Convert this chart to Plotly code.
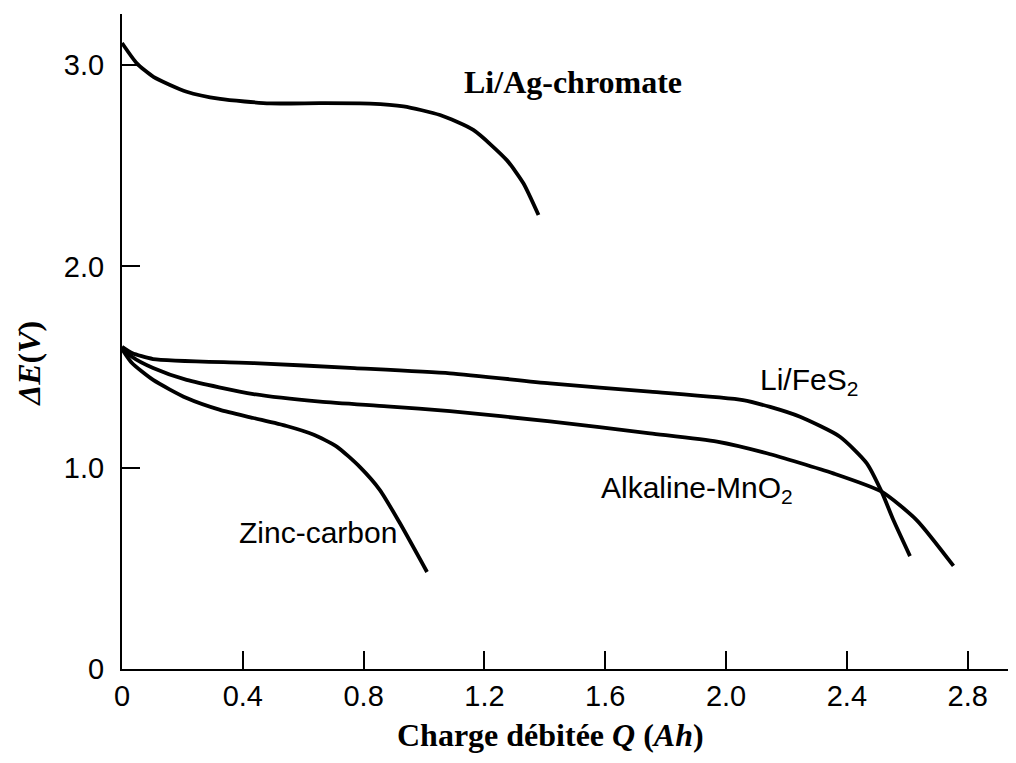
import plotly.graph_objects as go

# Li/Ag-chromate
q_ag = [0, 0.049, 0.104, 0.214, 0.325, 0.49, 0.656, 0.821, 0.932, 1.053, 1.163, 1.274, 1.329, 1.379]
v_ag = [3.11, 3.009, 2.942, 2.868, 2.832, 2.81, 2.811, 2.809, 2.795, 2.752, 2.678, 2.528, 2.413, 2.255]

# Li/FeS2
q_fes = [0, 0.033, 0.103, 0.435, 0.77, 1.086, 1.417, 1.748, 2.056, 2.146, 2.245, 2.377, 2.466, 2.515, 2.554, 2.609]
v_fes = [1.60, 1.57, 1.54, 1.52, 1.495, 1.469, 1.419, 1.378, 1.336, 1.302, 1.253, 1.154, 1.022, 0.881, 0.74, 0.561]

# Alkaline-MnO2
q_alk = [0, 0.033, 0.103, 0.214, 0.435, 0.656, 0.877, 1.086, 1.417, 1.748, 1.97, 2.135, 2.355, 2.515, 2.631, 2.753]
v_alk = [1.60, 1.551, 1.495, 1.436, 1.366, 1.328, 1.305, 1.281, 1.23, 1.171, 1.13, 1.072, 0.972, 0.881, 0.74, 0.512]

# Zinc-carbon
q_zn = [0, 0.033, 0.103, 0.214, 0.325, 0.435, 0.545, 0.633, 0.711, 0.788, 0.854, 0.92, 1.01]
v_zn = [1.59, 1.52, 1.436, 1.346, 1.287, 1.247, 1.207, 1.165, 1.105, 1.003, 0.889, 0.725, 0.482]

x_ticks = [0, 0.4, 0.8, 1.2, 1.6, 2.0, 2.4, 2.8]
x_tick_text = ["0", "0.4", "0.8", "1.2", "1.6", "2.0", "2.4", "2.8"]
y_ticks = [0, 1, 2, 3]
y_tick_text = ["0", "1.0", "2.0", "3.0"]

fig = go.Figure()
line_style = dict(color="black", width=3.8, shape="spline", smoothing=0.6)
for q, v, name in [(q_ag, v_ag, "Li/Ag-chromate"), (q_fes, v_fes, "Li/FeS2"),
                   (q_alk, v_alk, "Alkaline-MnO2"), (q_zn, v_zn, "Zinc-carbon")]:
    fig.add_trace(go.Scatter(x=q, y=v, mode="lines", line=line_style, name=name,
                             showlegend=False, hoverinfo="skip"))

sans = "Liberation Sans, Arial, sans-serif"
serif = "Liberation Serif, Times New Roman, serif"

fig.add_annotation(x=1.126, y=2.916, xref="x", yref="y", xanchor="left", yanchor="middle",
                   text="<b>Li/Ag-chromate</b>", showarrow=False,
                   font=dict(family=serif, size=32, color="black"))
fig.add_annotation(x=2.106, y=1.43, xref="x", yref="y", xanchor="left", yanchor="middle",
                   text="Li/FeS<sub>2</sub>", showarrow=False,
                   font=dict(family=sans, size=30, color="black"))
fig.add_annotation(x=1.578, y=0.89, xref="x", yref="y", xanchor="left", yanchor="middle",
                   text="Alkaline-MnO<sub>2</sub>", showarrow=False,
                   font=dict(family=sans, size=30, color="black"))
fig.add_annotation(x=0.38, y=0.68, xref="x", yref="y", xanchor="left", yanchor="middle",
                   text="Zinc-carbon", showarrow=False,
                   font=dict(family=sans, size=30, color="black"))

fig.add_annotation(x=1.42, y=-0.101, xref="x", yref="paper", xanchor="center", yanchor="middle",
                   text="<b>Charge débitée <i>Q</i> (<i>Ah</i>)</b>", showarrow=False,
                   font=dict(family=serif, size=32, color="black"))
fig.add_annotation(x=-0.104, y=0.466, xref="paper", yref="paper", xanchor="center", yanchor="middle",
                   text="<b><i>ΔE</i>(<i>V</i>)</b>", textangle=-90, showarrow=False,
                   font=dict(family=serif, size=32, color="black"))

fig.update_xaxes(range=[0, 2.96], showline=True, linewidth=2, linecolor="black",
                 showgrid=False, zeroline=False, ticks="inside", ticklen=18, tickwidth=2,
                 tickcolor="black", tickvals=x_ticks, ticktext=x_tick_text,
                 tickfont=dict(family=sans, size=29, color="black"), ticklabelstandoff=0)
fig.update_yaxes(range=[0, 3.254], showline=True, linewidth=2, linecolor="black",
                 showgrid=False, zeroline=False, ticks="inside", ticklen=18, tickwidth=2,
                 tickcolor="black", tickvals=y_ticks, ticktext=y_tick_text,
                 tickfont=dict(family=sans, size=29, color="black"), ticklabelstandoff=10)

# page body has an 8px margin, so the figure is offset by 8px
fig.update_layout(width=1008, height=755, margin=dict(l=114, r=0, t=6, b=94),
                  plot_bgcolor="white", paper_bgcolor="white", showlegend=False)

fig.write_html("out.html")
